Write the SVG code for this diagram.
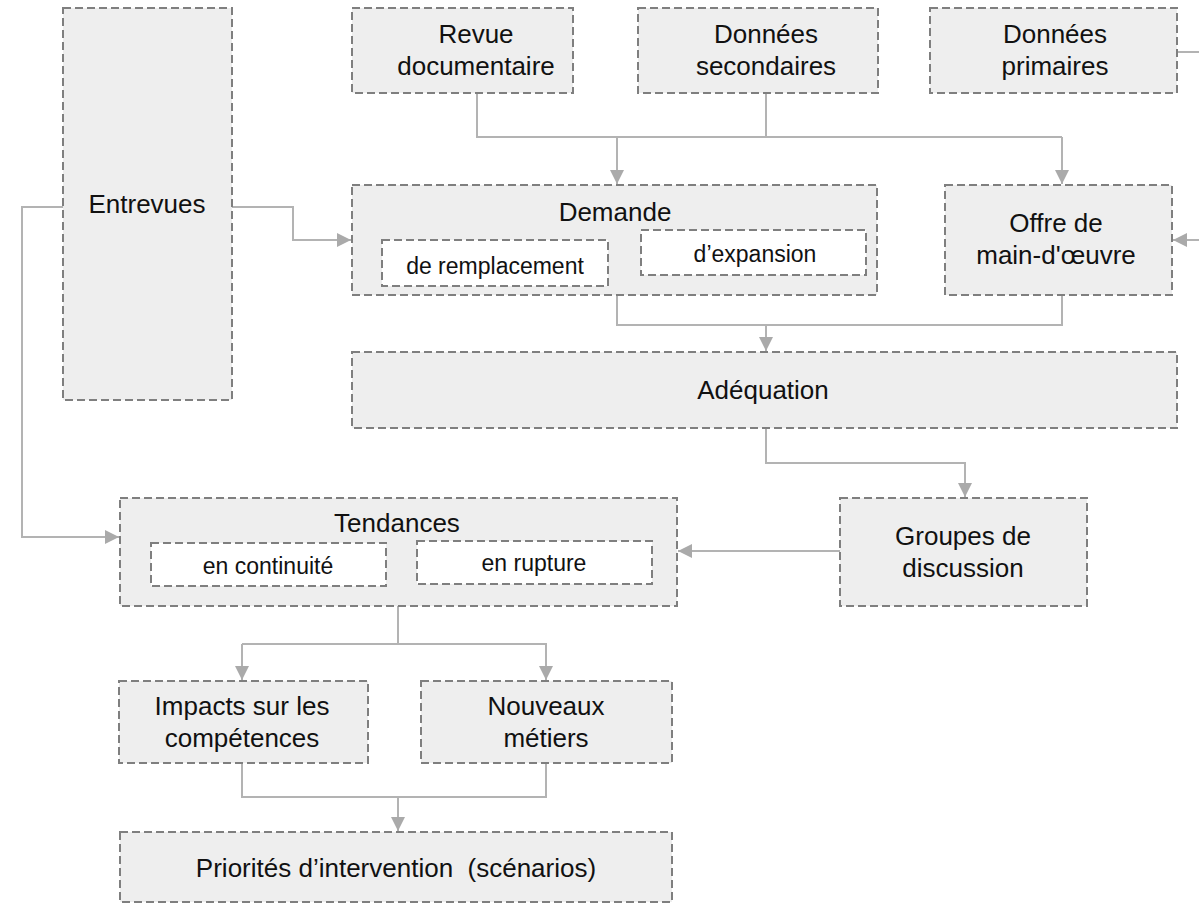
<svg xmlns="http://www.w3.org/2000/svg" width="1199" height="904" viewBox="0 0 1199 904">
<defs>
<marker id="ah" viewBox="0 0 10 10" refX="10" refY="5" markerWidth="7" markerHeight="7" markerUnits="strokeWidth" orient="auto">
<path d="M0,0 L10,5 L0,10 z" fill="#aaaaaa"/>
</marker>
<style>
.box{fill:#eeeeee;stroke:#7f7f7f;stroke-width:2;stroke-dasharray:8 4}
.inner{fill:#ffffff;stroke:#7f7f7f;stroke-width:2;stroke-dasharray:8 4}
.t{font-family:"Liberation Sans",Arial,sans-serif;font-size:26px;fill:#111111;text-anchor:middle}
.s{font-family:"Liberation Sans",Arial,sans-serif;font-size:23px;fill:#111111;text-anchor:middle}
.c{fill:none;stroke:#b3b3b3;stroke-width:2}
.a{fill:none;stroke:#b3b3b3;stroke-width:2;marker-end:url(#ah)}
</style>
</defs>
<rect width="1199" height="904" fill="#ffffff"/>
<g id="connectors">
<path class="c" d="M477,93 V137 H1062"/>
<path class="c" d="M766,93 V137"/>
<path class="a" d="M617,137 V184"/>
<path class="a" d="M1062,137 V184"/>
<path class="a" d="M232,207 H293 V240 H351"/>
<path class="a" d="M63,207 H22 V537 H119"/>
<path class="c" d="M617,295 V325 H1062 V295"/>
<path class="a" d="M766,325 V351"/>
<path class="a" d="M766,428 V463 H965 V497"/>
<path class="a" d="M840,551 H678"/>
<path class="c" d="M398,606 V644"/>
<path class="a" d="M242,644 H546 V680"/>
<path class="a" d="M242,644 V680"/>
<path class="c" d="M242,763 V797 H546 V763"/>
<path class="a" d="M398,797 V831"/>
<path class="c" d="M1177,52 H1199"/>
<path class="a" d="M1199,240 H1173"/>
</g>
<g id="entrevues"><rect class="box" x="63" y="8" width="169" height="392"/><text class="t" x="147" y="213">Entrevues</text></g>
<g id="revue"><rect class="box" x="352" y="8" width="221" height="85"/><text class="t" x="476" y="43">Revue</text><text class="t" x="476" y="75">documentaire</text></g>
<g id="secondaires"><rect class="box" x="638" y="8" width="240" height="85"/><text class="t" x="766" y="43">Données</text><text class="t" x="766" y="75">secondaires</text></g>
<g id="primaires"><rect class="box" x="930" y="8" width="247" height="85"/><text class="t" x="1055" y="43">Données</text><text class="t" x="1055" y="75">primaires</text></g>
<g id="demande"><rect class="box" x="352" y="185" width="525" height="110"/><text class="t" x="615" y="221">Demande</text>
<rect class="inner" x="382" y="240" width="226" height="46"/><text class="s" x="495" y="274">de remplacement</text>
<rect class="inner" x="641" y="230" width="225" height="45"/><text class="s" x="755" y="262">d’expansion</text></g>
<g id="offre"><rect class="box" x="945" y="185" width="227" height="110"/><text class="t" x="1056" y="232">Offre de</text><text class="t" x="1056" y="264">main-d'œuvre</text></g>
<g id="adequation"><rect class="box" x="352" y="352" width="825" height="76"/><text class="t" x="763" y="399">Adéquation</text></g>
<g id="groupes"><rect class="box" x="840" y="498" width="247" height="108"/><text class="t" x="963" y="545">Groupes de</text><text class="t" x="963" y="577">discussion</text></g>
<g id="tendances"><rect class="box" x="120" y="498" width="557" height="108"/><text class="t" x="397" y="532">Tendances</text>
<rect class="inner" x="151" y="543" width="235" height="43"/><text class="s" x="268" y="574">en continuité</text>
<rect class="inner" x="417" y="541" width="235" height="43"/><text class="s" x="534" y="571">en rupture</text></g>
<g id="impacts"><rect class="box" x="119" y="681" width="249" height="82"/><text class="t" x="242" y="715">Impacts sur les</text><text class="t" x="242" y="747">compétences</text></g>
<g id="nouveaux"><rect class="box" x="421" y="681" width="251" height="82"/><text class="t" x="546" y="715">Nouveaux</text><text class="t" x="546" y="747">métiers</text></g>
<g id="priorites"><rect class="box" x="120" y="832" width="552" height="70"/><text class="t" x="396" y="877" xml:space="preserve">Priorités d’intervention  (scénarios)</text></g>
</svg>
